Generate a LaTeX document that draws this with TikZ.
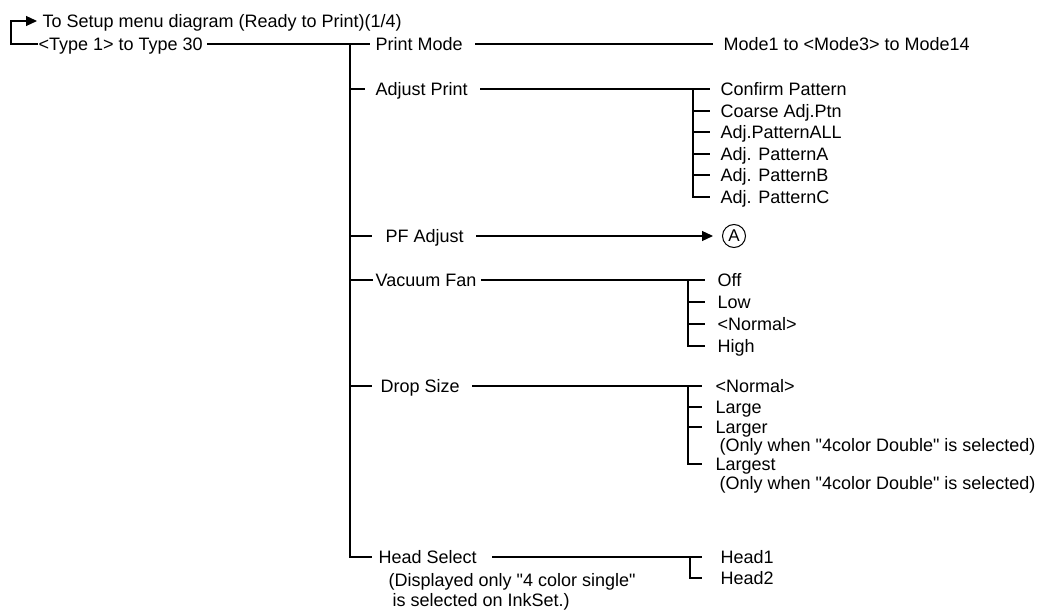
\documentclass[tikz,border=0pt]{standalone}
\usepackage{fontspec}
\setmainfont{Liberation Sans}[Ligatures=TeXOff]
\usetikzlibrary{arrows.meta}
\begin{document}
\begin{tikzpicture}[x=1pt, y=-1pt, line width=1.2pt, font=\fontsize{18}{21}\selectfont,
  lbl/.style={anchor=west, inner sep=0pt, text height=12.5pt, text depth=0pt},
  tip/.style={-{Triangle[length=11pt,width=10pt]}}]
  \useasboundingbox (0,0) rectangle (1050,612);
  % header
  \node[lbl] (title) at (42,21) {To Setup menu diagram (Ready to Print)(1/4)};
  \node[lbl] (type)  at (38,44) {<Type 1> to Type 30};
  \coordinate (bend) at (11,44);
  \draw[tip, shorten >=5pt] (type.west) -- (bend) |- (title.west);
  % first level
  \node[lbl] (pm) at (375,44)  {Print Mode};
  \node[lbl] (ap) at (375,89)  {Adjust Print};
  \node[lbl] (pf) at (385,236) {PF Adjust};
  \node[lbl] (vf) at (375,280) {Vacuum Fan};
  \node[lbl] (ds) at (380,386) {Drop Size};
  \node[lbl] (hs) at (378,557) {Head Select};
  \node[lbl] (hsnote1) at (388,580) {(Displayed only "4 color single"};
  \node[lbl] (hsnote2) at (392,600) {is selected on InkSet.)};
  \coordinate (trunk) at (350,44);
  \draw[shorten <=4pt, shorten >=5pt] (type.east) -- (pm.west);
  \draw[shorten >=6pt] (trunk) |- (hs.west);
  \foreach \n/\g in {ap/10pt, pf/13pt, vf/2pt, ds/8pt}
    \draw[shorten >=\g] (trunk |- \n.west) -- (\n.west);
  % Print Mode
  \node[lbl] (mode) at (723,44) {Mode1 to <Mode3> to Mode14};
  \draw[shorten <=12pt, shorten >=10pt] (pm.east) -- (mode.west);
  % Adjust Print
  \foreach \n/\t/\y in {ap1/Confirm Pattern/89, ap2/Coarse Adj.Ptn/111, ap3/Adj.PatternALL/132,
      ap4/Adj. PatternA/154, ap5/Adj. PatternB/175, ap6/Adj. PatternC/197}
    \node[lbl] (\n) at (720,\y) {\t};
  \coordinate (apj) at ([xshift=-27pt]ap1.west);
  \draw[shorten <=12pt, shorten >=10pt] (ap.east) -- (ap1.west);
  \draw[shorten >=10pt] (apj) |- (ap6.west);
  \foreach \n in {ap2, ap3, ap4, ap5}
    \draw[shorten >=10pt] (apj |- \n.west) -- (\n.west);
  % PF Adjust
  \node[circle, draw, line width=1pt, minimum size=23pt, inner sep=0pt, font=\fontsize{17}{17}\selectfont] (ca) at (734,236) {A};
  \draw[tip, shorten <=12pt, shorten >=9pt] (pf.east) -- (ca.west);
  % Vacuum Fan
  \foreach \n/\t/\y in {vf1/Off/280, vf2/Low/302, vf3/<Normal>/324, vf4/High/346}
    \node[lbl] (\n) at (717,\y) {\t};
  \coordinate (vfj) at ([xshift=-29pt]vf1.west);
  \draw[shorten <=4pt, shorten >=12pt] (vf.east) -- (vf1.west);
  \draw[shorten >=12pt] (vfj) |- (vf4.west);
  \foreach \n in {vf2, vf3}
    \draw[shorten >=12pt] (vfj |- \n.west) -- (\n.west);
  % Drop Size
  \foreach \n/\t/\y in {ds1/<Normal>/386, ds2/Large/407, ds3/Larger/427, ds4/Largest/464}
    \node[lbl] (\n) at (715,\y) {\t};
  \node[lbl] (dsnote1) at (719,445) {(Only when "4color Double" is selected)};
  \node[lbl] (dsnote2) at (719,483) {(Only when "4color Double" is selected)};
  \coordinate (dsj) at ([xshift=-27pt]ds1.west);
  \draw[shorten <=12pt, shorten >=13pt] (ds.east) -- (ds1.west);
  \draw[shorten >=13pt] (dsj) |- (ds4.west);
  \foreach \n in {ds2, ds3}
    \draw[shorten >=13pt] (dsj |- \n.west) -- (\n.west);
  % Head Select
  \node[lbl] (hs1) at (720,557) {Head1};
  \node[lbl] (hs2) at (720,578) {Head2};
  \coordinate (hsj) at ([xshift=-30pt]hs1.west);
  \draw[shorten <=15pt, shorten >=18pt] (hs.east) -- (hs1.west);
  \draw[shorten >=18pt] (hsj) |- (hs2.west);
\end{tikzpicture}
\end{document}
